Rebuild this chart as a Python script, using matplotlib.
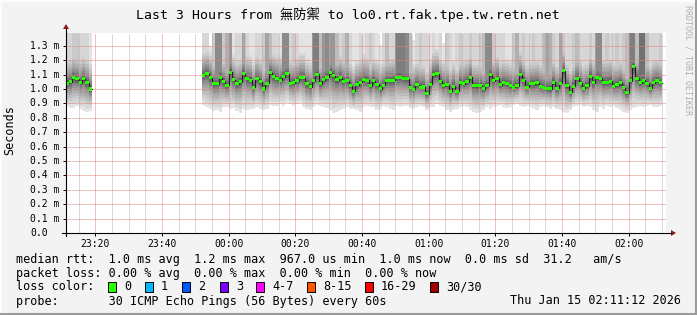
import numpy as np
import matplotlib
matplotlib.use("Agg")
import matplotlib.pyplot as plt
from matplotlib.patches import Rectangle
from matplotlib.lines import Line2D
from matplotlib.transforms import blended_transform_factory

# ---------------- data ----------------
title = "Last 3 Hours from 無防禦 to lo0.rt.fak.tpe.tw.retn.net"
x_start, x_end = "23:11:12", "02:11:12"
major_ticks = ["23:20", "23:40", "00:00", "00:20", "00:40", "01:00", "01:20", "01:40", "02:00"]
y_ticks = [0.0, 0.1, 0.2, 0.3, 0.4, 0.5, 0.6, 0.7, 0.8, 0.9, 1.0, 1.1, 1.2, 1.3]
y_max = 1.389  # ms

# segment 1 (one sample per minute)
seg1_start = "23:11"
med1 = [1.04, 1.05, 1.08, 1.07, 1.045, 1.07, 1.045, 1.0]
lo1 = [0.88, 0.87, 0.87, 0.88, 0.86, 0.85, 0.84, 0.85]
hi1 = [1.6, 1.6, 1.6, 1.6, 1.6, 1.6, 1.6, 1.6]
ntop1 = [2, 2, 3, 3, 2, 2, 2, 1]

# segment 2
seg2_start = "23:52"
med2 = [1.095, 1.106, 1.079, 1.037, 1.037, 1.079, 1.049, 1.025, 1.118, 1.065, 1.037, 1.049,
        1.106, 1.072, 1.062, 1.012, 1.072, 1.049, 1.0, 1.039, 1.113, 1.088, 1.074,
        1.062, 1.086, 1.106, 1.039, 1.044, 1.058, 1.079, 1.079, 1.035, 1.016, 1.058, 1.102,
        1.035, 1.065, 1.083, 1.113, 1.093, 1.065, 1.079, 1.053, 1.058, 1.023, 0.984,
        1.028, 1.046, 1.067, 1.060, 1.021, 1.056, 1.032, 1.002, 1.025, 1.058, 1.058, 1.060,
        1.083, 1.083, 1.076, 1.072, 1.009, 0.998, 1.028, 1.012, 1.014, 0.968, 1.032,
        1.1, 1.106, 1.053, 1.023, 1.028, 0.984, 1.019, 0.984, 1.042, 1.037, 1.051, 1.083,
        1.021, 1.021, 1.021, 1.002, 1.021, 1.1, 1.058, 1.076, 1.030, 1.046, 1.035, 1.021,
        1.012, 1.021, 1.1, 1.062, 1.012, 1.035, 1.035, 1.042, 1.019, 1.009, 1.002, 1.002,
        1.046, 1.005, 1.039, 1.127, 1.021, 0.977, 1.019, 1.076, 1.039, 1.005, 1.021,
        1.086, 1.044, 1.083, 1.076, 1.046, 1.046, 1.053, 1.019, 1.030, 1.042, 1.009, 0.975,
        1.058, 1.155, 1.076, 1.044, 1.060, 1.039, 1.005, 1.044, 1.056, 1.044]
lo2 = [0.889, 0.873, 0.859, 0.847, 0.854, 0.838, 0.873, 0.873, 0.859, 0.866, 0.850, 0.836,
       0.859, 0.854, 0.863, 0.863, 0.877, 0.863, 0.854, 0.863, 0.889, 0.882, 0.882,
       0.896, 0.882, 0.905, 0.896, 0.882, 0.896, 0.905, 0.873, 0.859, 0.854, 0.873, 0.889,
       0.882, 0.877, 0.866, 0.854, 0.831, 0.843, 0.854, 0.863, 0.877, 0.863, 0.859,
       0.854, 0.843, 0.873, 0.882, 0.873, 0.877, 0.854, 0.863, 0.882, 0.873, 0.859, 0.854,
       0.882, 0.873, 0.882, 0.882, 0.866, 0.859, 0.873, 0.882, 0.873, 0.854, 0.873,
       0.877, 0.896, 0.882, 0.873, 0.854, 0.843, 0.854, 0.863, 0.873, 0.882, 0.873, 0.854,
       0.843, 0.836, 0.843, 0.854, 0.873, 0.859, 0.873, 0.882, 0.889, 0.877, 0.866, 0.873,
       0.889, 0.896, 0.882, 0.873, 0.882, 0.873, 0.863, 0.854, 0.873, 0.882, 0.873, 0.863,
       0.873, 0.859, 0.854, 0.843, 0.836, 0.854, 0.873, 0.882, 0.889, 0.873, 0.882,
       0.873, 0.854, 0.843, 0.873, 0.863, 0.882, 0.873, 0.882, 0.866, 0.854, 0.843, 0.836,
       0.854, 0.866, 0.873, 0.882, 0.873, 0.882, 0.889, 0.877, 0.873, 0.882]
hi2 = [1.6] * 138
hi2[2] = 1.30
hi2[53] = 1.305
hi2[63] = 1.34
hi2[72] = 1.317
ntop2 = [2, 2, 0, 3, 8, 8, 3, 5, 7, 1, 2, 2, 6, 2, 1, 1, 2, 2, 3, 6, 4, 2, 2,
         1, 8, 8, 2, 3, 2, 1, 1, 1, 1, 9, 9, 4, 7, 8, 7, 7, 4, 2, 3, 5, 2, 1,
         1, 2, 1, 2, 3, 2, 1, 0, 2, 4, 2, 2, 9, 9, 9, 8, 4, 0, 2, 3, 2, 2, 1,
         2, 1, 2, 0, 3, 2, 1, 2, 3, 2, 2, 3, 2, 2, 3, 4, 8, 8, 3, 2, 2, 2, 1, 1,
         3, 5, 2, 3, 2, 2, 3, 2, 2, 4, 6, 5, 3, 2, 6, 3, 2, 2, 3, 4, 2, 2, 2,
         3, 2, 8, 8, 2, 3, 2, 2, 3, 2, 3, 4, 9, 9, 4, 10, 10, 4, 2, 2, 2, 3]

legend_rtt = "median rtt:  1.0 ms avg  1.2 ms max  967.0 us min  1.0 ms now  0.0 ms sd  31.2   am/s"
legend_loss = "packet loss: 0.00 % avg  0.00 % max  0.00 % min  0.00 % now"
loss_labels = ["0", "1", "2", "3", "4-7", "8-15", "16-29", "30/30"]
loss_colors = ["#26ff00", "#00b8ff", "#0059ff", "#7e00ff", "#ff00ff", "#ff5500", "#ff0000", "#a10000"]
probe_text = "probe:       30 ICMP Echo Pings (56 Bytes) every 60s"
date_text = "Thu Jan 15 02:11:12 2026"
watermark = "RRDTOOL / TOBI OETIKER"

# ---------------- helpers ----------------
def tmin(s):
    parts = [int(p) for p in s.split(":")]
    m = parts[0] * 60 + parts[1] + (parts[2] / 60 if len(parts) > 2 else 0)
    if parts[0] >= 12:
        m -= 1440
    return m

W, H = 697, 315
BG = "#f3f3f3"
MONO = "DejaVu Sans Mono"
fig = plt.figure(figsize=(W / 100, H / 100), dpi=100, facecolor=BG)

def fx(x):
    return x / W

def fy(y):
    return 1 - y / H

L, R, T, B = 66, 666, 33, 233
ax = fig.add_axes([fx(L), fy(B), (R - L) / W, (B - T) / H])
ax.set_facecolor("white")
t0, t1 = tmin(x_start), tmin(x_end)
ax.set_xlim(t0, t1)
ax.set_ylim(0, y_max)
for s in ax.spines.values():
    s.set_visible(False)

BEYOND = 5.0
BODY = 0.2
NL = 15

def draw_segment(start, med, lo, hi, ntop):
    med = np.asarray(med, float)
    lo = np.asarray(lo, float)
    hi = np.asarray(hi, float)
    ntop = np.asarray(ntop)
    n = len(med)
    t = tmin(start) + np.arange(n)
    edges = np.append(t, t[-1] + 1)
    ext = lambda a: np.append(a, a[-1])
    for i in range(1, NL + 1):
        f = ((NL + 0.5 - i) / (NL - 0.5)) ** 2
        lower = med - (med - lo) * f
        upper = med + BODY * f
        upper = np.where(ntop >= i, BEYOND, upper)
        if i == 1:
            upper = hi
        g = int(190 / NL * (NL - i)) + 50
        col = "#%02x%02x%02x" % (g, g, g)
        ax.fill_between(edges, ext(lower), ext(upper), step="post", color=col,
                        linewidth=0, antialiased=False, zorder=1)
    ax.step(edges, ext(med), where="post", color="#202020", lw=0.8, zorder=4)
    sw = 0.0105
    ax.fill_between(edges, ext(med - sw), ext(med + sw), step="post", color=loss_colors[0],
                    linewidth=0, antialiased=False, zorder=5)

draw_segment(seg1_start, med1, lo1, hi1, ntop1)
draw_segment(seg2_start, med2, lo2, hi2, ntop2)

# grid
major = [tmin(s) for s in major_ticks]
minor = np.arange(np.ceil(t0 / 5) * 5, t1, 5)
dots = (0, (1, 1))
for m in minor:
    if not any(abs(m - M) < 1e-6 for M in major):
        ax.axvline(m, color="#b4b4b4", lw=0.72, ls=dots, zorder=3)
for M in major:
    ax.axvline(M, color="#e88080", lw=0.72, ls=dots, zorder=3)
for yv in y_ticks[1:]:
    ax.axhline(yv, color="#e88080", lw=0.72, ls=dots, zorder=3)

# ticks
ax.set_xticks(major)
ax.set_xticklabels(major_ticks, fontfamily=MONO, fontsize=7)
ax.set_yticks(y_ticks)
ax.set_yticklabels([])
ax.tick_params(axis="x", direction="out", length=2, width=0.72, pad=2.4, colors="black")
ax.tick_params(axis="y", direction="out", length=2, width=0.72, colors="black")
tr = blended_transform_factory(fig.transFigure, ax.transData)
for yv in y_ticks:
    lab = "%.1f m" % yv if yv > 0 else "%.1f" % yv
    ax.text(fx(30), yv, lab, transform=tr, ha="left", va="center", fontfamily=MONO,
            fontsize=7, color="black")

# axis lines with arrows
axcol = "black"
fig.add_artist(Line2D([fx(L), fx(L)], [fy(B + 3), fy(29)], color=axcol, lw=0.8))
fig.add_artist(Line2D([fx(62), fx(671)], [fy(B), fy(B)], color=axcol, lw=0.8))
arrow_c = "#8b1a1a"
fig.add_artist(plt.Polygon([[fx(L - 3), fy(29)], [fx(L + 3), fy(29)], [fx(L), fy(24)]],
                           closed=True, color=arrow_c, lw=0))
fig.add_artist(plt.Polygon([[fx(671), fy(B - 3)], [fx(671), fy(B + 3)], [fx(676), fy(B)]],
                           closed=True, color=arrow_c, lw=0))

# title & labels
fig.text(fx(348), fy(15), title, ha="center", va="center", fontsize=9.5,
         family=[MONO, "Noto Sans CJK TC"], color="black")
fig.text(fx(10), fy(130), "Seconds", rotation=90, ha="center", va="center",
         fontsize=8.5, fontfamily=MONO)
fig.text(fx(688), fy(5), watermark, rotation=270, ha="center", va="top",
         fontsize=6, fontfamily=MONO, color="#b0b0b0")

# legend
fig.text(fx(16), fy(259), legend_rtt, ha="left", va="center", fontsize=8.5, fontfamily=MONO)
fig.text(fx(16), fy(273), legend_loss, ha="left", va="center", fontsize=8.5, fontfamily=MONO)
fig.text(fx(16), fy(287), "loss color:", ha="left", va="center", fontsize=8.5, fontfamily=MONO)
box_x = [108, 145, 182, 220, 256, 307, 365, 430]
for bx, lab, col in zip(box_x, loss_labels, loss_colors):
    fig.add_artist(Rectangle((fx(bx), fy(292)), 8 / W, 10 / H, facecolor=col,
                             edgecolor="black", lw=0.7))
    fig.text(fx(bx + 16), fy(287), lab, ha="left", va="center", fontsize=8.5, fontfamily=MONO)
fig.text(fx(16), fy(301), probe_text, ha="left", va="center", fontsize=8.5, fontfamily=MONO)
fig.text(fx(681), fy(301), date_text, ha="right", va="center", fontsize=8.5, fontfamily=MONO)

# 3D frame
fig.add_artist(Line2D([0, 1], [fy(1), fy(1)], color="#fcfcfc", lw=1.5))
fig.add_artist(Line2D([fx(1), fx(1)], [0, 1], color="#fcfcfc", lw=1.5))
fig.add_artist(Line2D([fx(696), fx(696)], [0, 1], color="#9c9c9c", lw=1.5))
fig.add_artist(Line2D([0, 1], [fy(314), fy(314)], color="#9c9c9c", lw=1.5))

fig.savefig("out.png", dpi=100, facecolor=BG)
